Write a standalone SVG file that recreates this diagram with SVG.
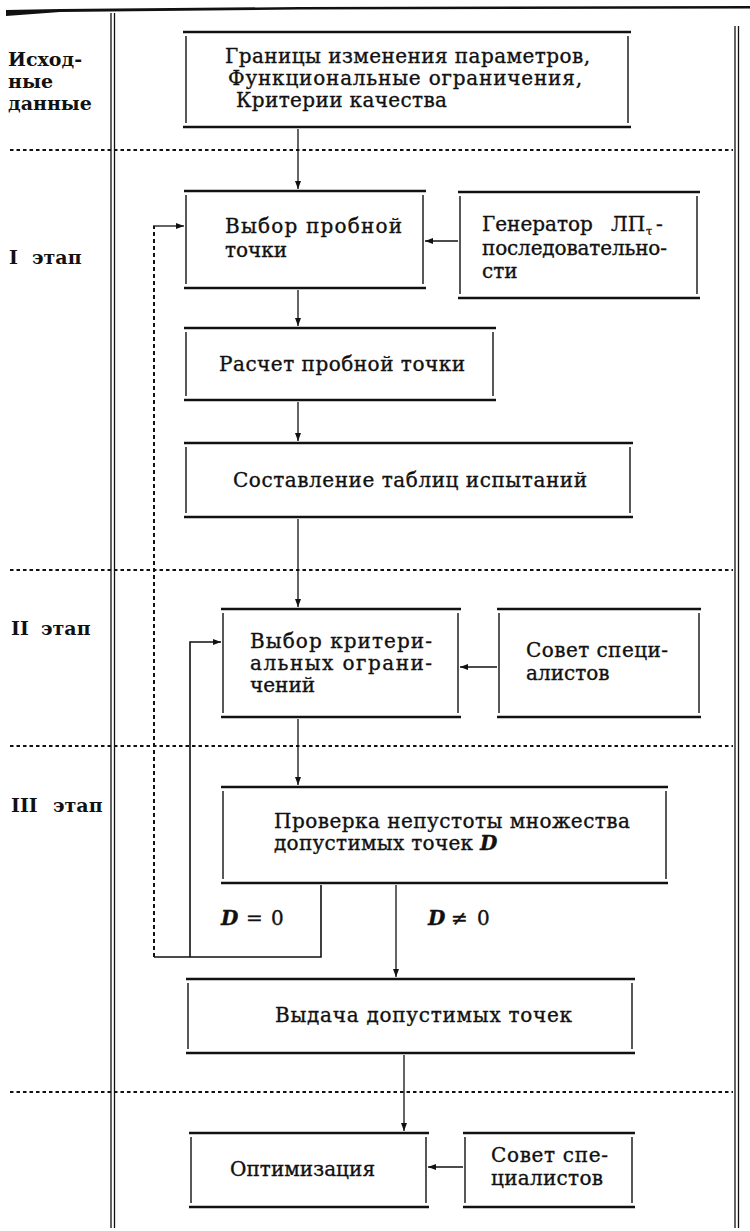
<svg xmlns="http://www.w3.org/2000/svg" width="750" height="1231" viewBox="0 0 750 1231">
<style>
.t{font-family:"DejaVu Serif","Liberation Serif",serif;font-size:20px;fill:#111;stroke:#111;stroke-width:0.35}
.lb{font-family:"DejaVu Serif","Liberation Serif",serif;font-size:19px;font-weight:bold;fill:#111}
.it{font-style:italic;font-weight:bold}
.h{stroke:#111;stroke-width:2.6;fill:none}
.v{stroke:#111;stroke-width:1.4;fill:none}
.ln{stroke:#111;stroke-width:1.3;fill:none}
.dot{stroke:#111;stroke-width:2;stroke-dasharray:3.5 3;fill:none}
.dl{stroke:#111;stroke-width:2;stroke-dasharray:4 3;fill:none}
</style>
<defs>
<marker id="ah" markerUnits="userSpaceOnUse" markerWidth="8" markerHeight="6" refX="8" refY="3" orient="auto">
<path d="M0,0 L8,3 L0,6 z" fill="#111"/>
</marker>
</defs>
<rect width="750" height="1231" fill="#fff"/>

<g id="frame">
<polygon points="6,10 60,9 300,7 750,6 750,8.5 300,9.5 60,12 6,16" fill="#111"/>
<line x1="111" y1="13" x2="111" y2="1228" class="ln"/>
<line x1="114.5" y1="13" x2="114.5" y2="1228" class="ln"/>
<line x1="735" y1="26" x2="735" y2="1228" class="ln"/>
<line x1="738.5" y1="26" x2="738.5" y2="1228" class="ln"/>
<line x1="10" y1="150" x2="733" y2="150" class="dot"/>
<line x1="10" y1="570" x2="733" y2="570" class="dot"/>
<line x1="10" y1="746" x2="733" y2="746" class="dot"/>
<line x1="10" y1="1092" x2="733" y2="1092" class="dot"/>
</g>

<g id="labels">
<text class="lb" x="8" y="66">Исход-</text>
<text class="lb" x="8" y="88">ные</text>
<text class="lb" x="8" y="110">данные</text>
<text class="lb" y="264"><tspan x="9">I</tspan><tspan x="32">этап</tspan></text>
<text class="lb" y="635"><tspan x="11">II</tspan><tspan x="41">этап</tspan></text>
<text class="lb" y="812"><tspan x="11">III</tspan><tspan x="53">этап</tspan></text>
</g>

<g id="n1">
<line x1="183" y1="32" x2="631" y2="32" class="h"/>
<line x1="183" y1="127" x2="631" y2="127" class="h"/>
<line x1="186" y1="36" x2="186" y2="123" class="v"/>
<line x1="628" y1="36" x2="628" y2="123" class="v"/>
<text class="t" x="225" y="63" textLength="365">Границы изменения параметров,</text>
<text class="t" x="228" y="85" textLength="354">Функциональные ограничения,</text>
<text class="t" x="236" y="107" textLength="211">Критерии качества</text>
</g>

<g id="n2">
<line x1="184" y1="191" x2="426" y2="191" class="h"/>
<line x1="184" y1="288" x2="426" y2="288" class="h"/>
<line x1="186" y1="195" x2="186" y2="284" class="v"/>
<line x1="423" y1="195" x2="423" y2="284" class="v"/>
<text class="t" x="225" y="233" textLength="177">Выбор пробной</text>
<text class="t" x="225" y="257">точки</text>
</g>

<g id="n3">
<line x1="458" y1="192" x2="700" y2="192" class="h"/>
<line x1="458" y1="298" x2="700" y2="298" class="h"/>
<line x1="460" y1="196" x2="460" y2="294" class="v"/>
<line x1="697" y1="196" x2="697" y2="294" class="v"/>
<text class="t" y="231"><tspan x="482">Генератор</tspan><tspan x="611">ЛП</tspan><tspan x="646" dy="4" font-size="11">τ</tspan><tspan x="656" dy="-4">-</tspan></text>
<text class="t" x="482" y="255" textLength="185">последовательно-</text>
<text class="t" x="482" y="278">сти</text>
</g>

<g id="n4">
<line x1="184" y1="328" x2="496" y2="328" class="h"/>
<line x1="184" y1="400" x2="496" y2="400" class="h"/>
<line x1="186" y1="332" x2="186" y2="396" class="v"/>
<line x1="493" y1="332" x2="493" y2="396" class="v"/>
<text class="t" x="219" y="371" textLength="246">Расчет пробной точки</text>
</g>

<g id="n5">
<line x1="184" y1="443" x2="633" y2="443" class="h"/>
<line x1="184" y1="517" x2="633" y2="517" class="h"/>
<line x1="186" y1="447" x2="186" y2="513" class="v"/>
<line x1="630" y1="447" x2="630" y2="513" class="v"/>
<text class="t" x="233" y="487" textLength="354">Составление таблиц испытаний</text>
</g>

<g id="n6">
<line x1="221" y1="609" x2="461" y2="609" class="h"/>
<line x1="221" y1="717" x2="461" y2="717" class="h"/>
<line x1="223" y1="613" x2="223" y2="713" class="v"/>
<line x1="458" y1="613" x2="458" y2="713" class="v"/>
<text class="t" x="250" y="648" textLength="182">Выбор критери-</text>
<text class="t" x="250" y="670" textLength="182">альных ограни-</text>
<text class="t" x="250" y="692">чений</text>
</g>

<g id="n7">
<line x1="497" y1="609" x2="701" y2="609" class="h"/>
<line x1="497" y1="717" x2="701" y2="717" class="h"/>
<line x1="499" y1="613" x2="499" y2="713" class="v"/>
<line x1="699" y1="613" x2="699" y2="713" class="v"/>
<text class="t" x="526" y="657" textLength="142">Совет специ-</text>
<text class="t" x="526" y="680">алистов</text>
</g>

<g id="n8">
<line x1="221" y1="787" x2="668" y2="787" class="h"/>
<line x1="221" y1="883" x2="668" y2="883" class="h"/>
<line x1="223" y1="791" x2="223" y2="879" class="v"/>
<line x1="666" y1="791" x2="666" y2="879" class="v"/>
<text class="t" x="274" y="828" textLength="356">Проверка непустоты множества</text>
<text class="t" x="274" y="850" textLength="199">допустимых точек</text>
<text class="t it" x="480" y="850">D</text>
</g>

<g id="n9">
<line x1="186" y1="979" x2="635" y2="979" class="h"/>
<line x1="186" y1="1053" x2="635" y2="1053" class="h"/>
<line x1="188" y1="983" x2="188" y2="1049" class="v"/>
<line x1="632" y1="983" x2="632" y2="1049" class="v"/>
<text class="t" x="275" y="1022" textLength="297">Выдача допустимых точек</text>
</g>

<g id="n10">
<line x1="189" y1="1133" x2="429" y2="1133" class="h"/>
<line x1="189" y1="1207" x2="429" y2="1207" class="h"/>
<line x1="191" y1="1137" x2="191" y2="1203" class="v"/>
<line x1="426" y1="1137" x2="426" y2="1203" class="v"/>
<text class="t" x="230" y="1176" textLength="145">Оптимизация</text>
</g>

<g id="n11">
<line x1="463" y1="1133" x2="635" y2="1133" class="h"/>
<line x1="463" y1="1207" x2="635" y2="1207" class="h"/>
<line x1="465" y1="1137" x2="465" y2="1203" class="v"/>
<line x1="632" y1="1137" x2="632" y2="1203" class="v"/>
<text class="t" x="491" y="1162" textLength="117">Совет спе-</text>
<text class="t" x="491" y="1185" textLength="112">циалистов</text>
</g>

<g id="connectors">
<line x1="298" y1="129" x2="298" y2="189" class="ln" marker-end="url(#ah)"/>
<line x1="458" y1="241" x2="425" y2="241" class="ln" marker-end="url(#ah)"/>
<line x1="298" y1="290" x2="298" y2="326" class="ln" marker-end="url(#ah)"/>
<line x1="298" y1="402" x2="298" y2="441" class="ln" marker-end="url(#ah)"/>
<line x1="298" y1="519" x2="298" y2="607" class="ln" marker-end="url(#ah)"/>
<line x1="497" y1="667" x2="460" y2="667" class="ln" marker-end="url(#ah)"/>
<line x1="298" y1="719" x2="298" y2="785" class="ln" marker-end="url(#ah)"/>
<line x1="396" y1="885" x2="396" y2="977" class="ln" marker-end="url(#ah)"/>
<line x1="404" y1="1055" x2="404" y2="1131" class="ln" marker-end="url(#ah)"/>
<line x1="463" y1="1167" x2="428" y2="1167" class="ln" marker-end="url(#ah)"/>
<polyline points="321,885 321,957 154,957" class="ln" style="stroke-width:1.6"/>
<polyline points="190,957 190,642 221,642" class="ln" style="stroke-width:1.6" marker-end="url(#ah)"/>
<line x1="154" y1="957" x2="154" y2="226" class="dl"/>
<line x1="153" y1="226" x2="184" y2="226" class="ln" marker-end="url(#ah)"/>
<text class="t" y="925"><tspan class="it" x="221">D</tspan><tspan x="246">=</tspan><tspan x="271">0</tspan></text>
<text class="t" y="925"><tspan class="it" x="428">D</tspan><tspan x="451">≠</tspan><tspan x="477">0</tspan></text>
</g>
</svg>
